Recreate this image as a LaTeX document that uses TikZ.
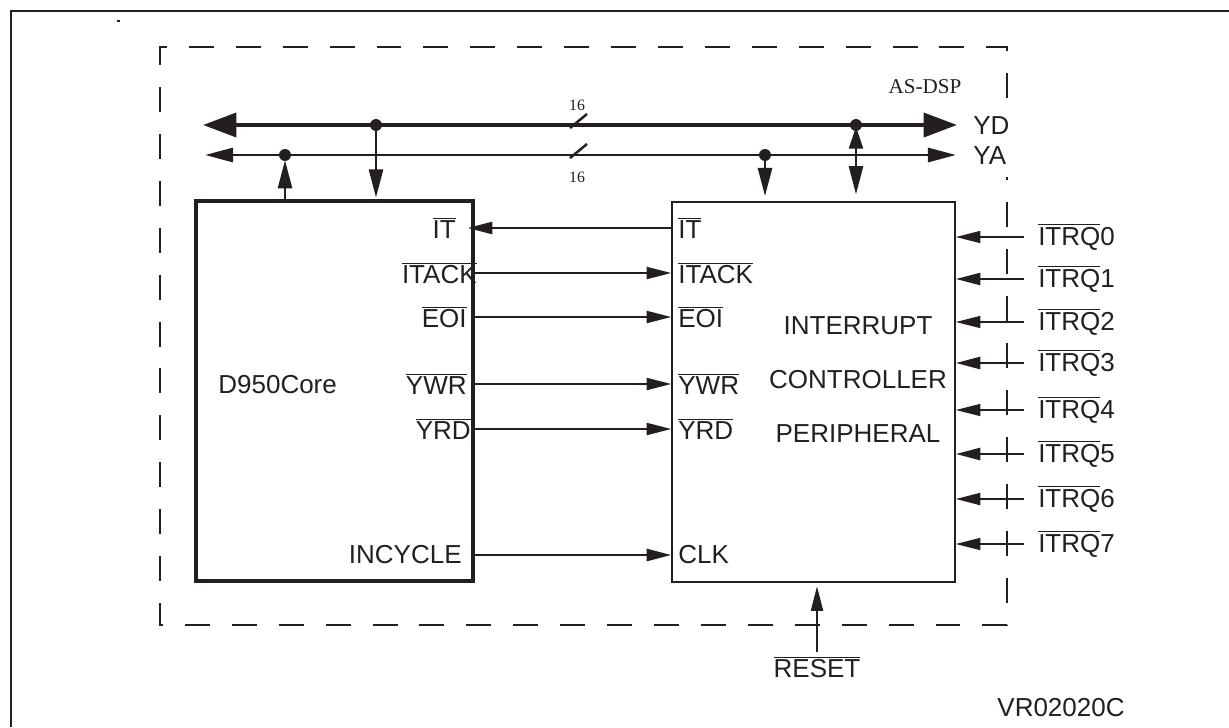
\documentclass[tikz,border=0pt]{standalone}
\usepackage{fontspec}
\setmainfont{Liberation Sans}
\newfontfamily\timesfont{Liberation Serif}
\usetikzlibrary{arrows.meta}
\definecolor{dInk}{RGB}{35,31,32}
\newcommand{\ovl}[1]{$\overline{\mbox{#1}}$}

\begin{document}
\begin{tikzpicture}[
	x=0.02cm,y=-0.02cm,
	font=\fontsize{14.8}{17}\selectfont,
	blk/.style={draw=dInk,inner sep=0pt},
	lbl/.style={text=dInk,inner sep=0pt},
	sig/.style={draw=dInk,line width=1.2pt,-{Triangle[length=14pt,width=6.8pt]}},
	tap/.style={draw=dInk,line width=1.4pt,-{Triangle[length=16pt,width=8pt]}},
	tiny/.style={lbl,font=\timesfont\fontsize{9}{10}\selectfont}
	]
	\useasboundingbox (0,0) rectangle (1229,727);
	\fill[white] (0,0) rectangle (1229,727);

	% frame and AS-DSP boundary
	\draw[dInk,line width=1.1pt] (1229,11) -- (11,11) -- (11,727);
	\draw[dInk,line width=1pt] (117,21) -- (120,21);
	\draw[dInk,line width=1.1pt,dash pattern=on 14.2pt off 12.5pt,dash phase=-5pt]
		(1007,107) -- (1007,47) -- (160,47) -- (160,625) -- (1007,625) -- (1007,177);
	\node[lbl,font=\timesfont\fontsize{12}{14}\selectfont] (asdsp) at (925,87) {AS-DSP};

	% blocks
	\node[blk,line width=2pt,minimum width=5.54cm,minimum height=7.6cm] (core) at (334.5,391) {};
	\node[blk,line width=0.85pt,minimum width=5.66cm,minimum height=7.6cm] (ctl) at (813.5,392) {};
	\node[lbl,anchor=west] (cname) at (218,385) {D950Core};
	\node[lbl] (c1) at (858,326) {INTERRUPT};
	\node[lbl] (c2) at (858,380) {CONTROLLER};
	\node[lbl] (c3) at (858,434) {PERIPHERAL};

	% buses
	\coordinate (ydW) at (203,125);
	\coordinate (ydE) at (957,125);
	\coordinate (yaW) at (205,155);
	\coordinate (yaE) at (956,155);
	\draw[dInk,line width=2.3pt,{Triangle[length=19pt,width=13.6pt]}-{Triangle[length=19pt,width=13.6pt]}] (ydW) -- (ydE);
	\draw[dInk,line width=1.7pt,{Triangle[length=16pt,width=8pt]}-{Triangle[length=16pt,width=8pt]}] (yaW) -- (yaE);
	\node[lbl,anchor=west] (yd) at (973,126) {YD};
	\node[lbl,anchor=west] (ya) at (973,156) {YA};
	\draw[dInk,line width=1.4pt] (570,128) -- (587,114);
	\draw[dInk,line width=1.4pt] (570,158) -- (587,144);
	\node[tiny] (wd) at (577,105) {16};
	\node[tiny] (wa) at (577,177) {16};

	\coordinate (jd1) at (376,125);
	\coordinate (ja1) at (285,155);
	\coordinate (ja2) at (765,155);
	\coordinate (jd2) at (856,125);
	\foreach \j in {jd1,ja1,ja2,jd2}
		\fill[dInk] (\j) circle[radius=3.4pt];
	\draw[tap,shorten >=1pt] (jd1) -- (jd1 |- core.north);
	\draw[tap,shorten >=3pt] (ja1 |- core.north) -- (ja1);
	\draw[tap,shorten >=3pt] (ja2) -- (ja2 |- ctl.north);
	\draw[tap,{Triangle[length=12.5pt,width=8pt]}-{Triangle[length=16pt,width=8pt]},
		shorten <=1pt,shorten >=4pt] (jd2) -- (jd2 |- ctl.north);

	% core <-> controller signals
	\node[lbl,anchor=east] (lIT) at (456,228) {\ovl{IT}};
	\node[lbl,anchor=west] (rIT) at (678,228) {\ovl{IT}};
	\draw[sig,line width=1.5pt,shorten >=-4pt] (ctl.west |- rIT) -- (core.east |- lIT);
	\foreach \s/\y/\xl in {ITACK/273/477,EOI/317/467,YWR/384/467,YRD/429/471}{
		\node[lbl,anchor=east] (l\s) at (\xl,\y) {\ovl{\s}};
		\node[lbl,anchor=west] (r\s) at (678,\y) {\ovl{\s}};
		\draw[sig] (core.east |- l\s) -- (ctl.west |- r\s);
	}
	\node[lbl,anchor=east] (lcyc) at (462,555) {INCYCLE};
	\node[lbl,anchor=west] (rclk) at (678,555) {CLK};
	\draw[sig,line width=1.5pt] (core.east |- lcyc) -- (ctl.west |- rclk);

	% interrupt requests
	\foreach \i/\y/\w in {0/237/0.9,1/279/1.4,2/322/0.9,3/363/1.6,4/410/0.9,5/454/1.6,6/499/1.3,7/544/0.9}{
		\node[lbl,anchor=west,inner xsep=7.9pt] (q\i) at (1024,\y) {\ovl{ITRQ}\i};
		\draw[sig,line width=\w pt] (q\i.west) -- (ctl.east |- q\i.west);
	}

	\node[lbl,inner sep=2pt] (rst) at (817,667) {\ovl{RESET}};
	\draw[sig,shorten >=2pt] (rst.north) -- (ctl.south -| rst.north);

	\node[lbl] (ref) at (1061,708) {VR02020C};
\end{tikzpicture}
\end{document}
